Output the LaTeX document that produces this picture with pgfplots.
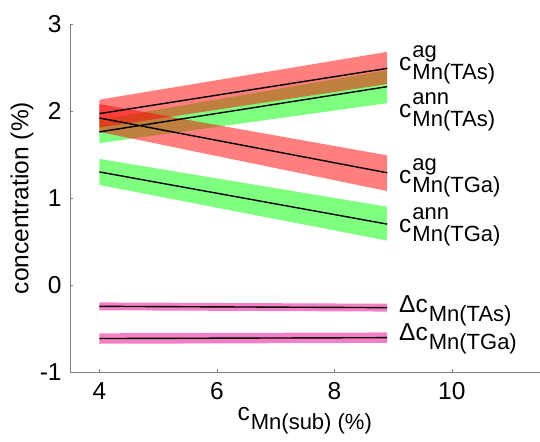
\documentclass[border=0pt]{standalone}
\usepackage{pgfplots}
\pgfplotsset{compat=1.18}
\usepackage{fontspec}
\setmainfont{Liberation Sans}

% c with a raised superscript and a lowered subscript, both smaller than the main text
\newcommand{\lbl}[3]{#1\kern1pt\rlap{\raisebox{13pt}{\fontsize{22}{22}\selectfont #2}}\raisebox{-9pt}{\fontsize{22}{22}\selectfont #3}}
\newcommand{\sub}[2]{#1\kern1pt\raisebox{-9pt}{\fontsize{22}{22}\selectfont #2}}

\begin{document}
\begin{tikzpicture}
\fontsize{24.5}{29}\selectfont
\begin{axis}[
    scale only axis,
    width=470pt, height=348pt,
    xmin=3.5, xmax=11.5,
    ymin=-1, ymax=3,
    xtick={4,6,8,10},
    ytick={-1,0,1,2,3},
    axis x line*=bottom,
    axis y line*=left,
    axis line style={gray, -},
    tick style={gray},
    tick align=inside,
    major tick length=3pt,
    /pgf/number format/assume math mode=true,
    ticklabel style={font=\fontsize{24.5}{29}\selectfont},
    xticklabel style={yshift=-2pt},
    ylabel={concentration (\%)},
    ylabel style={at={(axis description cs:0,0.5)}, anchor=center, yshift=48pt, font=\fontsize{24.5}{29}\selectfont},
    clip=false,
]
    % bands: green (annealed), then red (as grown), then magenta (difference)
    \addplot[draw=none, fill=green, fill opacity=0.5] coordinates {
        (4,1.63) (8.9,2.09) (8.9,2.47) (4,1.90)} -- cycle;
    \addplot[draw=none, fill=green, fill opacity=0.5] coordinates {
        (4,1.15) (8.9,0.51) (8.9,0.90) (4,1.45)} -- cycle;
    \addplot[draw=none, fill=red, fill opacity=0.5] coordinates {
        (4,1.81) (8.9,2.31) (8.9,2.68) (4,2.13)} -- cycle;
    \addplot[draw=none, fill=red, fill opacity=0.5] coordinates {
        (4,1.76) (8.9,1.08) (8.9,1.49) (4,2.08)} -- cycle;
    \addplot[draw=none, fill=magenta, fill opacity=0.5] coordinates {
        (4,-0.29) (8.9,-0.305) (8.9,-0.215) (4,-0.20)} -- cycle;
    \addplot[draw=none, fill=magenta, fill opacity=0.5] coordinates {
        (4,-0.675) (8.9,-0.665) (8.9,-0.545) (4,-0.555)} -- cycle;

    % center lines
    \addplot[black, line width=1.4pt] coordinates {(4,1.97) (8.9,2.49)};
    \addplot[black, line width=1.4pt] coordinates {(4,1.76) (8.9,2.28)};
    \addplot[black, line width=1.4pt] coordinates {(4,1.92) (8.9,1.29)};
    \addplot[black, line width=1.4pt] coordinates {(4,1.30) (8.9,0.70)};
    \addplot[black, line width=1.4pt] coordinates {(4,-0.245) (8.9,-0.26)};
    \addplot[black, line width=1.4pt] coordinates {(4,-0.615) (8.9,-0.605)};

    % labels
    \node[anchor=base west, inner sep=0pt] at (axis cs:9.1,2.46) {\lbl{c}{ag}{Mn(TAs)}};
    \node[anchor=base west, inner sep=0pt] at (axis cs:9.1,1.92) {\lbl{c}{ann}{Mn(TAs)}};
    \node[anchor=base west, inner sep=0pt] at (axis cs:9.1,1.17) {\lbl{c}{ag}{Mn(TGa)}};
    \node[anchor=base west, inner sep=0pt] at (axis cs:9.1,0.60) {\lbl{c}{ann}{Mn(TGa)}};
    \node[anchor=base west, inner sep=0pt] at (axis cs:9.1,-0.32) {\sub{Δc}{Mn(TAs)}};
    \node[anchor=base west, inner sep=0pt] at (axis cs:9.1,-0.64) {\sub{Δc}{Mn(TGa)}};
    \node[anchor=base west, inner sep=0pt] at (axis cs:6.35,-1.555) {\sub{c}{Mn(sub) (\%)}};

    \coordinate (bl) at (axis cs:2.309,-1.793);
    \coordinate (tr) at (axis cs:11.5,3.276);
\end{axis}
\pgfresetboundingbox
\path (bl) rectangle (tr);
\end{tikzpicture}
\end{document}
